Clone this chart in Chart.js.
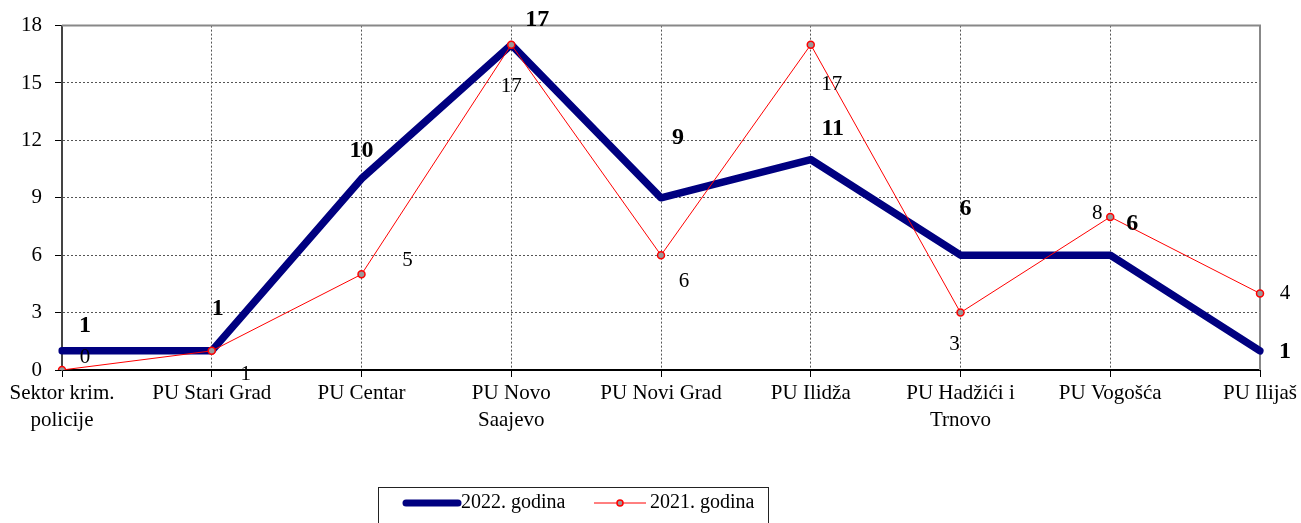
<!DOCTYPE html>
<html>
<head>
<meta charset="utf-8">
<script src="https://cdn.jsdelivr.net/npm/chart.js@4.4.1/dist/chart.umd.min.js"></script>
<style>
  html, body { margin: 0; padding: 0; background: #fff; }
  #wrap { width: 1301px; height: 523px; position: relative; }
</style>
</head>
<body>
<div id="wrap"><canvas id="chart" width="1301" height="523"></canvas></div>
<script>
  // Data
  const categories = [
    ["Sektor krim.", "policije"], "PU Stari Grad", "PU Centar", ["PU Novo", "Saajevo"],
    "PU Novi Grad", "PU Ilidža", ["PU Hadžići i", "Trnovo"], "PU Vogošća", "PU Ilijaš"
  ];
  const values2022 = [1, 1, 10, 17, 9, 11, 6, 6, 1];
  const values2021 = [0, 1, 5, 17, 6, 17, 3, 8, 4];
  const yTicks = [0, 3, 6, 9, 12, 15, 18];

  const serif = "'Liberation Serif', 'Times New Roman', serif";

  // Value labels, placed by hand like in the original sheet
  const valueLabels = {
    id: "valueLabels",
    afterDatasetsDraw(chart, args, opts) {
      const ctx = chart.ctx;
      opts.sets.forEach(set => {
        const meta = chart.getDatasetMeta(set.index);
        const data = chart.data.datasets[set.index].data;
        ctx.save();
        ctx.font = set.font;
        ctx.fillStyle = "#000";
        ctx.textAlign = "center";
        ctx.textBaseline = "middle";
        meta.data.forEach((pt, i) => {
          const off = set.offsets[i];
          ctx.fillText(String(data[i]), pt.x + off[0], pt.y + off[1]);
        });
        ctx.restore();
      });
    }
  };

  // Gray frame on top and right, plus legend box
  const frameAndLegend = {
    id: "frameAndLegend",
    beforeDatasetsDraw(chart) {
      const { ctx, chartArea: a } = chart;
      ctx.save();
      ctx.strokeStyle = "#888";
      ctx.lineWidth = 2;
      ctx.beginPath();
      ctx.moveTo(a.left, a.top);
      ctx.lineTo(a.right, a.top);
      ctx.lineTo(a.right, a.bottom);
      ctx.stroke();
      ctx.restore();
    },
    afterDraw(chart) {
      const ctx = chart.ctx;
      ctx.save();
      ctx.strokeStyle = "#222";
      ctx.lineWidth = 1;
      ctx.strokeRect(378.5, 487.5, 390, 40);

      // 2022 sample
      ctx.strokeStyle = "#000080";
      ctx.lineWidth = 7;
      ctx.lineCap = "round";
      ctx.beginPath();
      ctx.moveTo(406, 503);
      ctx.lineTo(458, 503);
      ctx.stroke();

      // 2021 sample
      ctx.strokeStyle = "#ff0000";
      ctx.lineWidth = 1;
      ctx.lineCap = "butt";
      ctx.beginPath();
      ctx.moveTo(594, 503);
      ctx.lineTo(646, 503);
      ctx.stroke();
      ctx.beginPath();
      ctx.arc(620, 503, 3, 0, Math.PI * 2);
      ctx.fillStyle = "#999";
      ctx.fill();
      ctx.lineWidth = 1.5;
      ctx.stroke();

      ctx.fillStyle = "#000";
      ctx.font = "20px " + serif;
      ctx.textBaseline = "middle";
      ctx.textAlign = "left";
      ctx.fillText("2022. godina", 461, 503);
      ctx.fillText("2021. godina", 650, 503);
      ctx.restore();
    }
  };

  const ctx = document.getElementById("chart").getContext("2d");
  new Chart(ctx, {
    type: "line",
    data: {
      labels: categories,
      datasets: [{
        label: "2022. godina",
        data: values2022,
        borderColor: "#000080",
        borderWidth: 7.5,
        borderCapStyle: "round",
        borderJoinStyle: "round",
        pointRadius: 0,
        tension: 0,
        order: 1
      }, {
        label: "2021. godina",
        data: values2021,
        borderColor: "#ff0000",
        borderWidth: 1,
        pointRadius: 3.5,
        pointBorderWidth: 1.5,
        pointBorderColor: "#ff0000",
        pointBackgroundColor: "#999",
        tension: 0,
        order: 0
      }]
    },
    options: {
      responsive: false,
      animation: false,
      layout: { padding: { top: 25, right: 41, left: 0, bottom: 0 } },
      plugins: {
        legend: { display: false },
        tooltip: { enabled: false },
        valueLabels: {
          sets: [
            {
              index: 0,
              font: "bold 24px " + serif,
              offsets: [[23, -25], [6, -42], [0, -28], [26, -25], [17, -60], [22, -31], [5, -46], [22, -31], [25, 1]]
            },
            {
              index: 1,
              font: "21px " + serif,
              offsets: [[23, -13], [34, 24], [46, -14], [0, 42], [23, 26], [21, 40], [-6, 32], [-13, -3], [25, 0]]
            }
          ]
        }
      },
      scales: {
        x: {
          offset: false,
          afterFit: s => { s.height = 153; },
          grid: {
            color: c => (c.index === 0 || c.index === categories.length - 1) ? "rgba(0,0,0,0)" : "#555",
            lineWidth: 1,
            tickLength: 7,
            tickColor: "#000",
            tickWidth: 1
          },
          border: { display: true, color: "#000", width: 2, dash: [2, 2] },
          ticks: {
            color: "#000",
            padding: 3,
            maxRotation: 0,
            autoSkip: false,
            font: { family: serif, size: 21, lineHeight: 1.3 }
          }
        },
        y: {
          min: 0,
          max: 18,
          afterFit: s => { s.width = 62; },
          afterBuildTicks: s => { s.ticks = yTicks.map(v => ({ value: v })); },
          grid: {
            color: c => (c.tick && (c.tick.value === 0 || c.tick.value === 18)) ? "rgba(0,0,0,0)" : "#555",
            lineWidth: 1,
            tickLength: 7,
            tickColor: "#000",
            tickWidth: 1
          },
          border: { display: true, color: "#444", width: 2, dash: [2, 2] },
          ticks: {
            color: "#000",
            padding: 13,
            font: { family: serif, size: 21 }
          }
        }
      }
    },
    plugins: [frameAndLegend, valueLabels]
  });
</script>
</body>
</html>
